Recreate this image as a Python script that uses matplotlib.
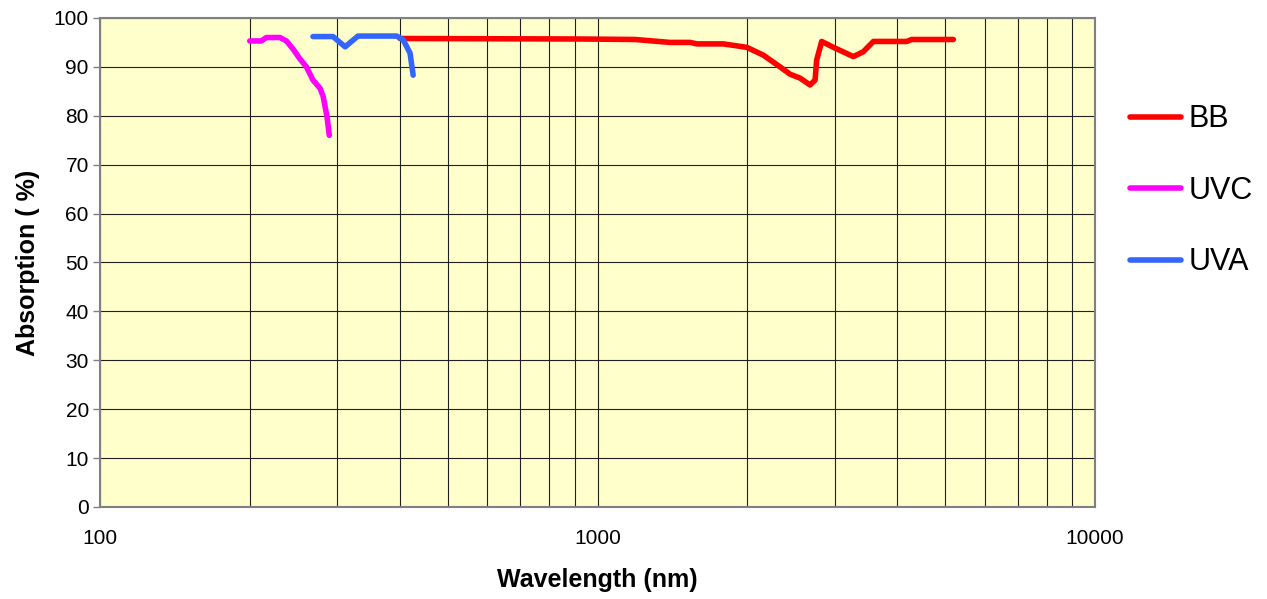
import matplotlib.pyplot as plt
from matplotlib.ticker import FixedLocator, NullFormatter

plt.rcParams['font.family'] = ['Liberation Sans', 'DejaVu Sans']

# wavelength (nm) and absorption (%)
bb_x = [401, 922, 1190, 1399, 1535, 1583, 1790, 1995, 2154, 2327, 2438, 2553,
        2674, 2737, 2757, 2822, 2979, 3268, 3422, 3585, 4183, 4280, 5190]
bb_y = [95.8, 95.7, 95.6, 95.0, 95.0, 94.7, 94.7, 94.0, 92.4, 90.0, 88.5, 87.7,
        86.3, 87.3, 91.4, 95.2, 94.0, 92.1, 93.1, 95.2, 95.2, 95.6, 95.6]

uvc_x = [200, 211, 216, 230, 237, 245, 252, 260, 268, 277, 281, 286, 289]
uvc_y = [95.3, 95.3, 96.0, 96.0, 95.3, 93.5, 91.7, 90.0, 87.3, 85.6, 83.9, 79.8, 76.0]

uva_x = [268, 294, 311, 330, 395, 407, 420, 426]
uva_y = [96.2, 96.2, 94.1, 96.3, 96.3, 95.5, 92.8, 88.3]

fig = plt.figure(figsize=(12.67, 5.99), dpi=100)
ax = fig.add_axes([0.0789, 0.1536, 0.7854, 0.8164])
ax.set_facecolor('#FFFFCC')

ax.plot(bb_x, bb_y, color='#FF0000', lw=4, solid_capstyle='round', label='BB', zorder=3)
ax.plot(uvc_x, uvc_y, color='#FF00FF', lw=4, solid_capstyle='round', label='UVC', zorder=3)
ax.plot(uva_x, uva_y, color='#3366FF', lw=4, solid_capstyle='round', label='UVA', zorder=3)

ax.set_xscale('log')
ax.set_xlim(100, 10000)
ax.set_ylim(0, 100)
ax.set_yticks(range(0, 101, 10))
ax.xaxis.set_major_locator(FixedLocator([100, 1000, 10000]))
ax.xaxis.set_minor_locator(FixedLocator([m * d for d in (100, 1000) for m in range(2, 10)]))
ax.xaxis.set_minor_formatter(NullFormatter())
ax.set_xticklabels(['100', '1000', '10000'])

ax.grid(True, which='both', axis='x', color='#202020', lw=0.8)
ax.grid(True, which='major', axis='y', color='#202020', lw=0.8)
ax.tick_params(axis='x', which='both', length=0, labelsize=15, pad=16)
ax.tick_params(axis='y', length=5, width=1, color='#808080', labelsize=15, pad=3)

for side in ['left', 'bottom', 'top', 'right']:
    ax.spines[side].set_color('#808080')
    ax.spines[side].set_linewidth(1.5)

ax.set_xlabel('Wavelength (nm)', fontsize=18, fontweight='bold', labelpad=14)
ax.set_ylabel('Absorption ( %)', fontsize=18, fontweight='bold', labelpad=10)

fig.legend(loc='upper left', bbox_to_anchor=(0.892, 0.826), frameon=False,
           fontsize=22, handlelength=1.65, labelspacing=1.36, handletextpad=0.25,
           borderpad=0, borderaxespad=0)

fig.savefig('out.png', dpi=100)
